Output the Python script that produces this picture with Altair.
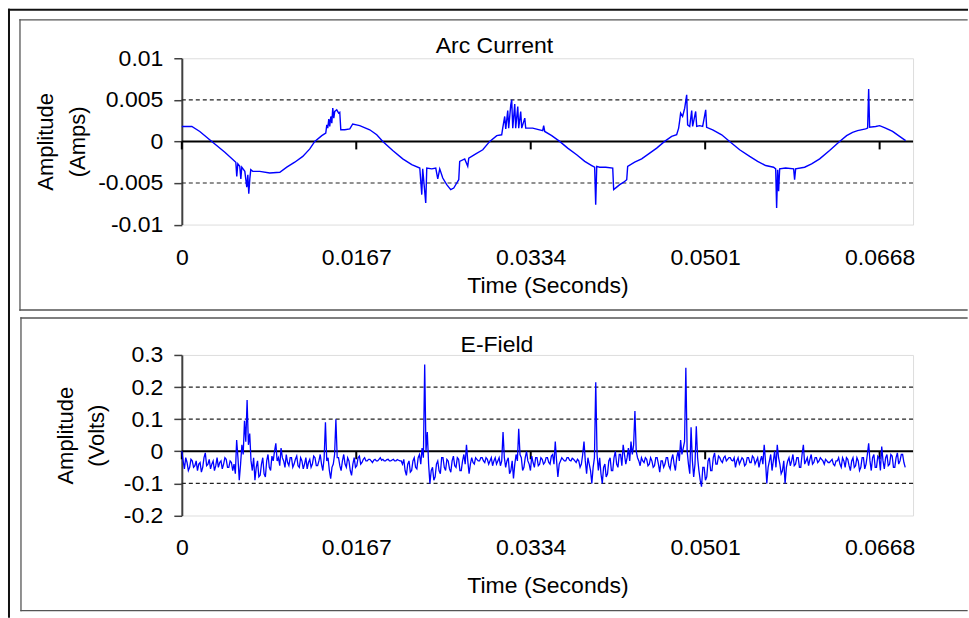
import altair as alt
import pandas as pd

FONT = "Liberation Sans"

# ---------------- data ----------------
# Arc current: sample times (ms) and amplitude (A)
arc_ms = [0, 0.96, 1.72, 2.87, 4.12, 5.17, 5.26, 5.36, 5.55, 5.65, 5.74, 6.03, 6.22, 6.32, 6.41, 6.51,
          6.60, 6.79, 7.46, 8.42, 9.38, 10.05, 10.81, 11.58, 12.25, 12.73, 13.40, 13.78, 13.88, 13.97,
          14.07, 14.16, 14.26, 14.36, 14.45, 14.55, 14.64, 14.83, 15.02, 15.12, 15.22, 15.60, 16.08,
          16.36, 17.03, 17.99, 18.66, 19.24, 20.19, 21.15, 22.01, 22.78, 22.97, 23.06, 23.35, 23.45,
          23.93, 24.31, 24.50, 24.69, 24.98, 25.36, 25.74, 26.03, 26.32, 26.51, 26.60, 27.08, 27.37,
          27.47, 28.14, 28.81, 29.48, 30.15, 30.62, 30.72, 30.91, 31.01, 31.20, 31.29, 31.49, 31.58,
          31.68, 31.87, 31.96, 32.16, 32.25, 32.44, 32.54, 32.83, 32.92, 33.59, 34.55, 34.64, 34.74,
          35.41, 36.17, 36.94, 37.80, 38.57, 39.24, 39.52, 39.62, 39.72, 40.00, 40.58, 41.25, 41.34,
          41.63, 41.92, 42.30, 42.59, 42.68, 43.35, 44.02, 44.79, 45.46, 46.22, 46.89, 47.37, 47.56,
          47.66, 47.75, 47.94, 48.14, 48.33, 48.42, 48.62, 48.81, 48.90, 49.19, 49.29, 49.57, 49.86,
          50.15, 50.24, 50.82, 51.68, 52.44, 53.40, 54.36, 55.12, 55.89, 56.65, 56.85, 56.94, 57.04,
          57.13, 57.23, 57.80, 58.57, 58.66, 58.76, 59.62, 60.29, 61.06, 62.01, 62.97, 63.64, 64.21,
          64.69, 65.46, 65.65, 65.75, 65.84, 66.42, 66.80, 67.37, 68.04, 68.71, 69.29]
arc_amps = [0.0018, 0.0018, 0.0012, 0.0, -0.0013, -0.0025, -0.0042, -0.0027, -0.0030, -0.0045, -0.0031,
            -0.0036, -0.0055, -0.0040, -0.0063, -0.0045, -0.0034, -0.0036, -0.0036, -0.0038, -0.0037,
            -0.0031, -0.0025, -0.0018, -0.0009, 0.0, 0.0007, 0.0010, 0.0020, 0.0016, 0.0027, 0.0018,
            0.0030, 0.0022, 0.0040, 0.0028, 0.0036, 0.0038, 0.0034, 0.0035, 0.0014, 0.0014, 0.0015,
            0.0021, 0.0019, 0.0014, 0.0008, 0.0, -0.0011, -0.0021, -0.0028, -0.0032, -0.0064, -0.0033,
            -0.0074, -0.0032, -0.0033, -0.0032, -0.0045, -0.0033, -0.0044, -0.0052, -0.0058, -0.0056,
            -0.0050, -0.0046, -0.0024, -0.0021, -0.0030, -0.0020, -0.0015, -0.0010, 0.0, 0.0007, 0.0008,
            0.0016, 0.0030, 0.0015, 0.0037, 0.0016, 0.0044, 0.0050, 0.0016, 0.0045, 0.0016, 0.0042,
            0.0016, 0.0036, 0.0016, 0.0028, 0.0016, 0.0016, 0.0013, 0.0019, 0.0012, 0.0007, 0.0,
            -0.0008, -0.0016, -0.0024, -0.0029, -0.0031, -0.0076, -0.0030, -0.0031, -0.0031, -0.0032,
            -0.0058, -0.0055, -0.0052, -0.0049, -0.0046, -0.0030, -0.0025, -0.0021, -0.0014, -0.0008,
            0.0, 0.0006, 0.0008, 0.0016, 0.0025, 0.0034, 0.0030, 0.0040, 0.0056, 0.0020, 0.0018, 0.0037,
            0.0018, 0.0036, 0.0018, 0.0019, 0.0018, 0.0038, 0.0017, 0.0014, 0.0008, 0.0, -0.0010,
            -0.0018, -0.0024, -0.0029, -0.0031, -0.0033, -0.0080, -0.0034, -0.0060, -0.0033, -0.0032,
            -0.0033, -0.0046, -0.0033, -0.0031, -0.0027, -0.0021, -0.0011, 0.0, 0.0007, 0.0011, 0.0013,
            0.0015, 0.0016, 0.0063, 0.0017, 0.0018, 0.0019, 0.0016, 0.0012, 0.0006, 0.0001]

# E-field: one reading every 0.125 ms (V) (one row = 5 ms)
efield_step_ms = 0.125
efield_volts = [
    0.00, -0.03, -0.055, -0.02, -0.035, -0.06, -0.05, -0.025, -0.03, -0.05, -0.045, -0.03, -0.06, -0.04,
    -0.035, -0.065, -0.05, -0.02, -0.005, -0.045, -0.04, -0.025, -0.055, -0.04, -0.03, -0.06, -0.045, -0.02,
    -0.05, -0.035, -0.03, -0.055, -0.04, -0.02, -0.025, -0.05, -0.05, -0.03, -0.035, -0.06,
    # 5 ms
    -0.04, -0.07, 0.035, -0.02, -0.09, -0.04, 0.02, -0.01, 0.095, 0.03, 0.16, 0.02, 0.055, -0.03,
    -0.06, -0.02, -0.09, -0.05, -0.03, -0.08, -0.075, -0.04, -0.02, -0.07, -0.08, -0.03, -0.01, -0.05,
    -0.06, -0.015, -0.03, 0.0, 0.025, -0.03, -0.02, -0.045, 0.01, -0.02, -0.03, -0.05,
    # 10 ms
    -0.01, -0.035, -0.045, -0.02, -0.02, -0.05, -0.04, -0.025, -0.015, -0.045, -0.05, -0.02, -0.03, -0.055,
    -0.04, -0.02, -0.055, -0.035, -0.025, -0.05, -0.04, -0.015, -0.02, -0.045, -0.045, -0.03, -0.01, -0.04,
    -0.06, -0.02, 0.09, -0.03, -0.02, -0.06, -0.085, -0.05, -0.04, -0.01, 0.10, -0.02,
    # 15 ms
    -0.02, -0.045, -0.06, -0.03, -0.01, -0.04, -0.05, -0.02, -0.03, -0.06, -0.075, -0.04, -0.02, -0.05,
    -0.045, -0.02, -0.015, -0.04, -0.035, -0.025, -0.02, -0.03, -0.03, -0.025, -0.025, -0.03, -0.035, -0.028,
    -0.025, -0.03, -0.03, -0.025, -0.02, -0.028, -0.025, -0.03, -0.03, -0.026, -0.025, -0.03,
    # 20 ms
    -0.03, -0.027, -0.025, -0.03, -0.03, -0.026, -0.028, -0.03, -0.03, -0.04, -0.025, -0.06, -0.075, -0.04,
    -0.03, -0.065, -0.06, -0.03, -0.02, -0.05, -0.055, -0.02, -0.01, -0.04, 0.01, -0.02, 0.27, 0.0,
    0.06, -0.04, -0.10, -0.06, -0.05, -0.09, -0.08, -0.04, -0.03, -0.06, -0.07, -0.02,
    # 25 ms
    -0.02, -0.05, -0.06, -0.025, -0.03, -0.055, -0.065, -0.03, -0.015, -0.045, -0.05, -0.02, -0.025, -0.06,
    -0.06, -0.03, -0.01, -0.04, 0.02, -0.03, -0.07, -0.04, -0.02, -0.035, -0.04, -0.02, -0.025, -0.03,
    -0.03, -0.02, -0.02, -0.03, -0.035, -0.02, -0.025, -0.04, -0.03, -0.02, -0.045, -0.03,
    # 30 ms
    -0.02, -0.04, -0.03, -0.02, -0.045, -0.03, 0.06, -0.02, -0.05, -0.03, -0.02, -0.07, -0.06, -0.03,
    -0.085, -0.04, -0.01, -0.03, 0.07, -0.01, -0.02, -0.06, -0.05, -0.02, 0.0, -0.03, -0.04, -0.06,
    -0.015, -0.035, -0.05, -0.02, -0.02, -0.045, -0.04, -0.02, -0.025, -0.04, -0.035, -0.02,
    # 35 ms
    -0.02, -0.035, -0.04, -0.015, -0.01, -0.04, 0.03, -0.03, -0.08, -0.04, -0.03, -0.02, -0.025, -0.03,
    -0.03, -0.02, -0.02, -0.028, -0.03, -0.022, -0.025, -0.03, -0.035, -0.025, -0.03, -0.05, -0.04, -0.01,
    0.03, -0.03, -0.07, -0.02, -0.04, -0.06, -0.10, -0.05, -0.02, 0.215, -0.01, -0.06,
    # 40 ms
    -0.02, -0.07, -0.10, -0.05, -0.04, -0.08, -0.07, -0.03, -0.02, -0.06, -0.06, -0.02, 0.0, -0.04,
    -0.05, -0.01, -0.01, -0.045, 0.02, -0.01, -0.04, -0.02, 0.01, -0.03, 0.03, -0.01, 0.02, 0.125,
    0.0, -0.02, -0.03, -0.045, -0.02, -0.03, -0.035, -0.02, -0.025, -0.045, -0.04, -0.02,
    # 45 ms
    -0.03, -0.05, -0.045, -0.02, -0.02, -0.04, -0.065, -0.03, -0.03, -0.05, -0.04, -0.02, -0.02, -0.045,
    -0.055, -0.025, -0.01, -0.04, -0.06, -0.02, 0.0, -0.03, 0.035, -0.01, 0.01, 0.03, 0.26, 0.0,
    -0.04, -0.07, 0.075, -0.03, -0.08, -0.04, 0.078, -0.02, -0.06, -0.09, -0.11, -0.05,
    # 50 ms
    -0.05, -0.09, -0.08, -0.03, -0.02, -0.06, -0.06, -0.02, -0.005, -0.04, -0.04, -0.015, -0.02, -0.03,
    -0.035, -0.02, -0.015, -0.03, -0.025, -0.02, -0.02, -0.028, -0.03, -0.02, -0.05, -0.03, -0.02, -0.04,
    -0.03, -0.02, -0.025, -0.045, -0.04, -0.02, -0.02, -0.035, -0.035, -0.015, -0.02, -0.04,
    # 55 ms
    -0.03, -0.02, -0.05, -0.03, -0.015, -0.04, 0.02, -0.03, -0.10, -0.05, -0.03, -0.01, -0.06, -0.03,
    0.0, -0.05, 0.02, -0.02, -0.04, -0.07, -0.06, -0.03, -0.10, -0.05, -0.03, -0.02, -0.045, -0.03,
    -0.01, -0.045, -0.04, -0.02, -0.02, -0.05, -0.05, -0.01, 0.02, -0.04, -0.03, -0.02,
    # 60 ms
    -0.045, -0.025, -0.01, -0.04, -0.035, -0.02, -0.02, -0.035, -0.03, -0.02, -0.025, -0.03, -0.04, -0.025,
    -0.03, -0.035, -0.035, -0.03, -0.025, -0.04, -0.045, -0.03, -0.03, -0.02, -0.04, -0.05, -0.02, -0.03,
    -0.05, -0.02, -0.025, -0.045, -0.06, -0.03, -0.02, -0.05, -0.045, -0.02, -0.03, -0.06,
    # 65 ms
    -0.05, -0.02, -0.02, -0.055, -0.04, -0.01, 0.025, -0.03, -0.06, -0.02, -0.01, -0.05, -0.05, -0.015,
    -0.02, -0.06, 0.015, -0.03, -0.055, -0.02, -0.01, -0.045, -0.04, -0.01, -0.015, -0.05, -0.05, -0.02,
    -0.005, -0.04, -0.03, -0.01, -0.01, -0.035, -0.05,
]

x_tick_values = [0, 0.0167, 0.0334, 0.0501, 0.0668]
arc_y_ticks = [-0.01, -0.005, 0, 0.005, 0.01]
arc_grid = [-0.005, 0.005]
ef_y_ticks = [-0.2, -0.1, 0, 0.1, 0.2, 0.3]
ef_grid = [-0.1, 0.1, 0.2]

arc_df = pd.DataFrame({"t": [m / 1000 for m in arc_ms], "v": arc_amps})
ef_df = pd.DataFrame({"t": [i * efield_step_ms / 1000 for i in range(len(efield_volts))],
                      "v": efield_volts})
one = pd.DataFrame({"k": [0]})

W = 732
Y_LABEL_EXPR = ("datum.value == 0 ? '0' : (datum.value < 0 ? '-' : '') + "
                "format(abs(datum.value), '~g')")


def seg(x1, x2, y1, y2, color="#111111", width=2.0):
    return alt.Chart(one).mark_rule(color=color, strokeWidth=width, strokeCap="square").encode(
        x=alt.value(x1), x2=alt.value(x2), y=alt.value(y1), y2=alt.value(y2))


def panel(df, title, title_x, title_y, ytitle, ydomain, yticks, grid, height,
          ytitle_x, ytitle_lh, xtitle_y, line_w, frames):
    x_enc = alt.X("t:Q", scale=alt.Scale(domain=[0, 0.07], nice=False, zero=False),
                  axis=alt.Axis(values=x_tick_values, format=".4~f", title="Time (Seconds)",
                                orient="bottom", domain=False, ticks=False, tickSize=0,
                                grid=False, labelPadding=21.5, labelFlush=False,
                                labelOverlap=False, labelFont=FONT, labelFontSize=23,
                                labelColor="black", titleFont=FONT, titleFontSize=23,
                                titleFontWeight="normal", titleColor="black",
                                titleBaseline="top", titleY=xtitle_y))
    y_enc = alt.Y("v:Q", scale=alt.Scale(domain=ydomain, nice=False, zero=False),
                  axis=alt.Axis(values=yticks, labelExpr=Y_LABEL_EXPR, title=ytitle,
                                grid=False, domainColor="#404040", domainWidth=2,
                                tickColor="#404040", tickWidth=1.5, tickSize=8,
                                labelPadding=11, labelFont=FONT, labelFontSize=23,
                                labelColor="black", labelOverlap=False, labelFlush=False,
                                titleFont=FONT, titleFontSize=22, titleFontWeight="normal",
                                titleColor="black", titleAngle=-90, titleAlign="center",
                                titleBaseline="middle", titleLineHeight=ytitle_lh,
                                titleX=ytitle_x, titleY=height / 2))

    grid_layer = alt.Chart(pd.DataFrame({"v": grid})).mark_rule(
        color="#222222", strokeWidth=1.2, strokeDash=[4, 3]).encode(y=y_enc)
    zero_layer = alt.Chart(pd.DataFrame({"v": [0]})).mark_rule(
        color="black", strokeWidth=2).encode(y=y_enc)
    tick_layer = alt.Chart(pd.DataFrame({"t": x_tick_values, "v": [0] * len(x_tick_values)})).mark_point(
        shape="M0,0L0,2", size=64, filled=False, color="black", strokeWidth=2, opacity=1
    ).encode(x=x_enc, y=y_enc)
    line_layer = alt.Chart(df).mark_line(color="#0000ff", strokeWidth=line_w).encode(
        x=x_enc, y=y_enc, order="t:Q")
    title_layer = alt.Chart(one).mark_text(
        font=FONT, fontSize=23, color="black", align="center", baseline="alphabetic"
    ).encode(x=alt.value(title_x), y=alt.value(title_y), text=alt.value(title))

    return alt.layer(grid_layer, zero_layer, tick_layer, line_layer, title_layer,
                     *frames).properties(width=W, height=height)


# top panel: plot origin at (182, 57.5) in the picture
top_frames = [
    seg(-173, 786, -48.5, -48.5),             # outer border, top
    seg(-173, -173, -48.5, 559),              # outer border, left
    seg(-162, 786, -38.5, -38.5, "#555555", 1.3),
    seg(-162, 786, 252, 252, "#555555", 1.3),
    seg(-162, -162, -38.5, 252, "#555555", 1.3),
]
# bottom panel: plot origin at (182, 354)
bottom_frames = [
    seg(-161, 786, -37, -37, "#555555", 1.3),
    seg(-161, 786, 256, 256, "#555555", 1.3),
    seg(-161, -161, -37, 256, "#555555", 1.3),
]

top = panel(arc_df, "Arc Current", 313, -5.5, ["Amplitude", "(Amps)"], [-0.01, 0.01],
            arc_y_ticks, arc_grid, 166.5, -136.5, 32, 49.5, 1.4, top_frames)
bottom = panel(ef_df, "E-Field", 315.5, -3.3, ["Amplitude", "(Volts)"], [-0.2, 0.3],
               ef_y_ticks, ef_grid, 160.7, -116, 31, 59, 1.3, bottom_frames)

chart = alt.vconcat(top, bottom, spacing=130, bounds="flush").properties(
    padding={"left": 7, "top": 7, "right": 0, "bottom": 0},
    background="white",
).configure_view(stroke="#a6a6a6", strokeWidth=2).configure(font=FONT)

chart.save("out.html", embed_options={"renderer": "svg", "actions": False})
